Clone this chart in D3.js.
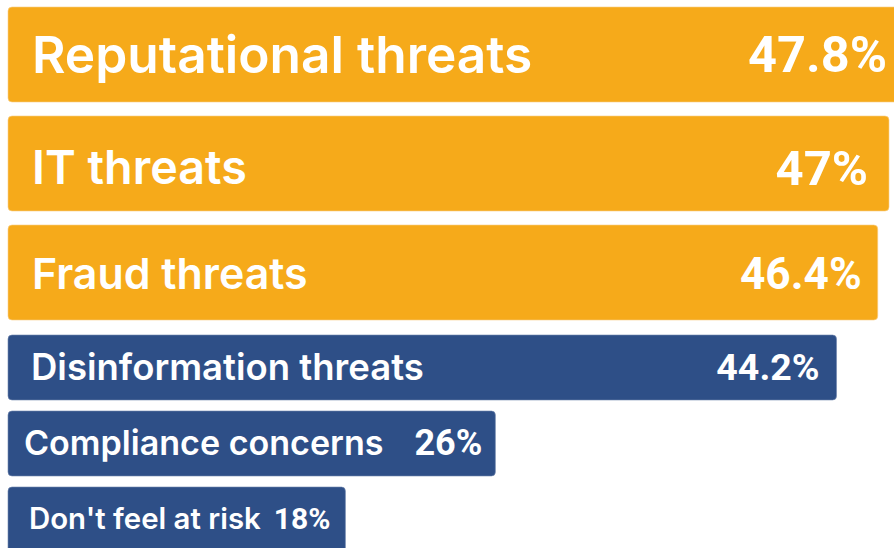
<!DOCTYPE html>
<html>
<head>
<meta charset="utf-8">
<script src="https://cdn.jsdelivr.net/npm/d3@7"></script>
<style>
  html, body { margin: 0; padding: 0; background: #ffffff; }
  svg { display: block; }
</style>
</head>
<body>
<script>
// Share of respondents naming each risk
const categories = [
  "Reputational threats",
  "IT threats",
  "Fraud threats",
  "Disinformation threats",
  "Compliance concerns",
  "Don't feel at risk"
];
const values = [47.8, 47, 46.4, 44.2, 26, 18];
const valueLabels = ["47.8%", "47%", "46.4%", "44.2%", "26%", "18%"];
const topGroup = categories.slice(0, 3);   // highlighted risks
const restGroup = categories.slice(3);

const W = 894, H = 548;
const colors = { top: "#F6AA1A", rest: "#2E4F87" };
const edge = { top: "#FAD08A", rest: "#6F86AE" };

// per-row typography: label size, value size, insets, baseline nudge
const labelSizes = [51.4, 46.7, 42.9, 36.5, 34.1, 29.4];
const valueSizes = [50.5, 49, 44.3, 37.5, 36, 30];
const labelInset = [24, 24, 24, 23, 16, 21];
const valueInset = [17, 21, 16, 17, 13, 15];
const nudge = [0, 4, 1, -1, -1, -1];

const svg = d3.select("body").append("svg")
  .attr("width", W).attr("height", H);

const x = d3.scaleLinear().domain([0, 47.8]).range([8, 904]);

const yTop = d3.scaleBand().domain(topGroup).range([0, 327])
  .paddingInner(0.128).paddingOuter(0.064);
const yRest = d3.scaleBand().domain(restGroup).range([329.5, 557.5])
  .paddingInner(0.145).paddingOuter(0.0725);

const rows = categories.map((c, i) => {
  const inTop = topGroup.includes(c);
  const y = inTop ? yTop : yRest;
  return {
    i, name: c, value: values[i], label: valueLabels[i],
    y: y(c), h: y.bandwidth(),
    color: inTop ? colors.top : colors.rest,
    stroke: inTop ? edge.top : edge.rest
  };
});

const g = svg.selectAll("g.row").data(rows).join("g").attr("class", "row");

g.append("rect")
  .attr("x", x(0))
  .attr("y", d => d.y)
  .attr("width", d => x(d.value) - x(0))
  .attr("height", d => d.h)
  .attr("rx", 4)
  .attr("fill", d => d.color)
  .attr("stroke", d => d.stroke)
  .attr("stroke-opacity", 0.6)
  .attr("stroke-width", 1);

// category name, left inside the bar
g.append("text")
  .attr("x", d => x(0) + labelInset[d.i])
  .attr("y", d => d.y + d.h / 2 + labelSizes[d.i] * 0.363 + nudge[d.i])
  .attr("fill", "#ffffff")
  .attr("font-family", "Inter, sans-serif")
  .attr("font-weight", 600)
  .attr("font-size", d => labelSizes[d.i])
  .text(d => d.name);

// value, right inside the bar
g.append("text")
  .attr("x", d => x(d.value) - valueInset[d.i])
  .attr("y", d => d.y + d.h / 2 + valueSizes[d.i] * 0.355 + nudge[d.i])
  .attr("text-anchor", "end")
  .attr("fill", "#ffffff")
  .attr("font-family", "Roboto, sans-serif")
  .attr("font-weight", 700)
  .attr("font-size", d => valueSizes[d.i])
  .text(d => d.label);
</script>
</body>
</html>
